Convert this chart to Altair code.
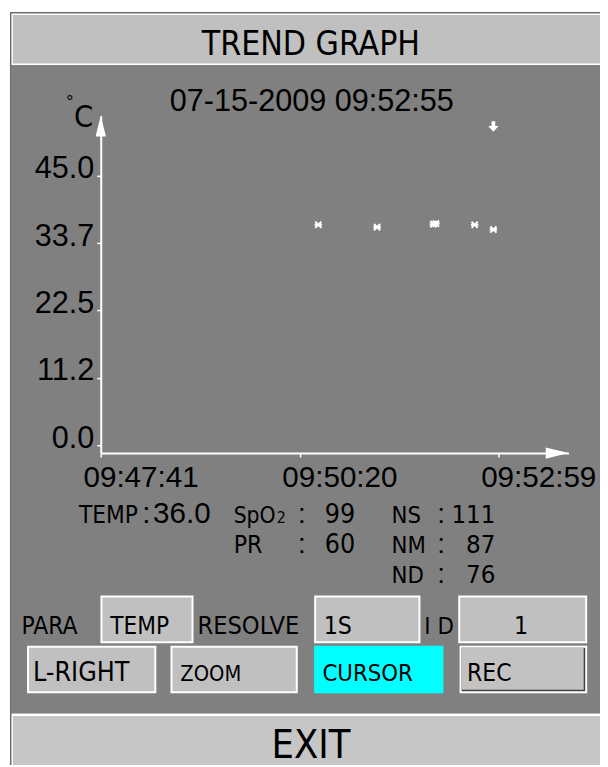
import altair as alt
import pandas as pd

# ---------------- data ----------------
x_tick_labels = ["09:47:41", "09:50:20", "09:52:59"]
x_axis_span_seconds = 374
y_tick_values = [0.0, 11.25, 22.5, 33.75, 45.0]
y_tick_labels = ["0.0", "11.2", "22.5", "33.7", "45.0"]
y_domain = [-1.3, 55.0]

sample_times = ["09:50:35", "09:51:22", "09:52:07", "09:52:09", "09:52:40", "09:52:55"]
sample_temps = [36.8, 36.4, 36.9, 37.0, 36.8, 36.0]

cursor_time = "09:52:55"
cursor_stamp = "07-15-2009 09:52:55"

readout_names = ["TEMP", "SpO", "PR", "NS", "NM", "ND"]
readout_values = ["36.0", "99", "60", "111", "87", "76"]

# ---------------- helpers ----------------
NARROW = "DejaVu Sans Condensed, Liberation Sans, sans-serif"
REG = "Liberation Sans, Arial, sans-serif"

OX, OY = 102, 112          # page position of the plot origin
W, H = 474, 342            # plot size


def secs(t):
    h, m, s = (int(v) for v in t.split(":"))
    h0, m0, s0 = (int(v) for v in x_tick_labels[0].split(":"))
    return (h * 3600 + m * 60 + s) - (h0 * 3600 + m0 * 60 + s0)


dummy = pd.DataFrame({"d": [0]})


def rect(x0, y0, x1, y1, color):
    return alt.Chart(dummy).mark_rect(color=color, strokeWidth=0).encode(
        x=alt.value(x0 - OX), x2=alt.value(x1 - OX),
        y=alt.value(y0 - OY), y2=alt.value(y1 - OY))


def text(s, x, y, size, font=NARROW, align="left", color="black"):
    return alt.Chart(dummy).mark_text(
        text=s, font=font, fontSize=size, align=align,
        baseline="alphabetic", color=color).encode(
        x=alt.value(x - OX), y=alt.value(y - OY))


def button(x0, y0, x1, y1, fill="#c0c0c0"):
    return [rect(x0, y0, x1, y1, "white"), rect(x0 + 2, y0 + 2, x1 - 2, y1 - 2, fill)]


layers = []
# screen frame
layers.append(rect(10, 7, 612, 770, "#6a6a6a"))
layers.append(rect(11.5, 8.5, 612, 61, "white"))
layers.append(rect(13, 10, 612, 59, "#c0c0c0"))
layers.append(rect(11, 61, 612, 718, "#808080"))
layers.append(rect(11.5, 718, 612, 770, "white"))
layers.append(rect(13, 720.5, 612, 770, "#c6c6c6"))

layers.append(text("TREND GRAPH", 315, 50, 34, align="center"))
layers.append(text(cursor_stamp, 172, 107, 31, font=REG))
layers.append(text("°", 67, 104, 18, font=REG))
layers.append(text("C", 75, 123, 31))

# readouts
layers.append(text(readout_names[0], 80, 525, 24.5))
layers.append(text(":", 144, 525, 30, font=REG))
layers.append(text(readout_values[0], 155, 525, 30, font=REG))
layers.append(text(readout_names[1], 236.7, 525, 23))
layers.append(text("2", 280.5, 525, 16))
layers.append(text(readout_names[2], 236.7, 555, 25))
for yy in (525, 555):
    layers.append(text(":", 302, yy, 28, font=REG))
layers.append(text(readout_values[1], 360, 525, 27, align="right"))
layers.append(text(readout_values[2], 360, 555, 27, align="right"))
for name, val, yy in zip(readout_names[3:], readout_values[3:], (525, 555, 586)):
    layers.append(text(name, 396.7, yy, 24))
    layers.append(text(":", 443, yy, 28, font=REG))
    layers.append(text(val, 502, yy, 26, align="right"))

# buttons
layers.append(text("PARA", 21.7, 637, 24.7))
layers += button(101.7, 598.3, 196, 646.7)
layers.append(text("TEMP", 111.7, 637, 24.5))
layers.append(text("RESOLVE", 200, 637, 25.5))
layers += button(318.3, 598.3, 426, 646.7)
layers.append(text("1S", 328, 637, 25))
layers.append(text("I D", 430, 637, 24))
layers += button(464.3, 598.3, 595, 646.7)
layers.append(text("1", 528, 637, 25, align="center"))

layers += button(27.3, 649.3, 158.3, 697.3)
layers.append(text("L-RIGHT", 33.3, 685, 27))
layers += button(172.7, 649.3, 301.7, 697.3)
layers.append(text("ZOOM", 182.7, 685, 22))
layers.append(rect(318.3, 649.3, 449.3, 697.3, "#00ffff"))
layers.append(text("CURSOR", 326.7, 685, 24))
layers.append(rect(465.7, 649.3, 595, 697.3, "white"))
layers.append(rect(467.7, 651.3, 593, 695.3, "#404040"))
layers.append(rect(467.7, 651.3, 591.5, 693.8, "#c4c2c0"))
layers.append(text("REC", 473.3, 685, 24.7))

layers.append(text("EXIT", 315, 763, 40, align="center"))

# ---------------- plot ----------------
x_vals = [secs(t) for t in x_tick_labels]
x_expr = " : ".join(f"datum.value == {v} ? '{l}'" for v, l in zip(x_vals, x_tick_labels)) + " : ''"
y_expr = " : ".join(f"abs(datum.value - {v}) < 0.01 ? '{l}'" for v, l in zip(y_tick_values, y_tick_labels)) + " : ''"

x_scale = alt.Scale(domain=[0, x_axis_span_seconds], nice=False, zero=False)
y_scale = alt.Scale(domain=y_domain, nice=False, zero=False)

x_axis = alt.Axis(values=x_vals, labelExpr=x_expr, title=None, grid=False,
                  domainColor="white", domainWidth=2, tickColor="white",
                  tickSize=4, tickWidth=1.5, labelFont=REG, labelFontSize=30,
                  labelColor="black", labelAlign="left", labelOffset=-18,
                  labelBaseline="alphabetic", labelPadding=30,
                  labelFlush=False, labelOverlap=False, zindex=1)
y_axis = alt.Axis(values=y_tick_values, labelExpr=y_expr, title=None, grid=False,
                  domainColor="white", domainWidth=2, tickColor="white",
                  tickSize=4, tickWidth=1.5, labelFont=REG, labelFontSize=31,
                  labelColor="black", labelAlign="right", labelBaseline="alphabetic",
                  labelOffset=2, labelPadding=3, labelFlush=False, labelOverlap=False,
                  zindex=1)

pts = pd.DataFrame({"t": [secs(t) for t in sample_times], "temp": sample_temps})
cur = pd.DataFrame({"t": [secs(cursor_time)]})

points = alt.Chart(pts).mark_point(
    shape="M-1,-1L1,1M-1,1L1,-1M-1.2,0L1.2,0", filled=False, color="white",
    strokeWidth=2, size=40, opacity=1).encode(
    x=alt.X("t:Q", scale=x_scale, axis=x_axis),
    y=alt.Y("temp:Q", scale=y_scale, axis=y_axis))

cursor = alt.Chart(cur).mark_point(
    shape="M-0.35,-1L0.35,-1L0.35,-0.1L1,-0.1L0,1L-1,-0.1L-0.35,-0.1Z",
    filled=True, color="white", size=110, opacity=1).encode(
    x=alt.X("t:Q", scale=x_scale, axis=x_axis),
    y=alt.value(123 - OY))

y_arrow = alt.Chart(dummy).mark_point(
    shape="M0,-1L0.5,1L-0.5,1Z", filled=True, color="white", size=441, opacity=1).encode(
    x=alt.value(0), y=alt.value(10.5))
x_arrow = alt.Chart(dummy).mark_point(
    shape="M1,0L-1,-0.5L-1,0.5Z", filled=True, color="white", size=529, opacity=1).encode(
    x=alt.value(576 - 11.5 - OX), y=alt.value(H))

layers += [points, cursor, y_arrow, x_arrow]

chart = alt.layer(*layers).properties(
    width=W, height=H,
    padding={"left": OX - 8, "top": OY - 8, "right": 600 - (OX - 8) - W,
             "bottom": 759 - (OY - 8) - H},
    autosize=alt.AutoSizeParams(type="none"),
    background="white",
).configure_view(stroke=None)

chart.save("out.html", embed_options={"renderer": "svg", "actions": False})
